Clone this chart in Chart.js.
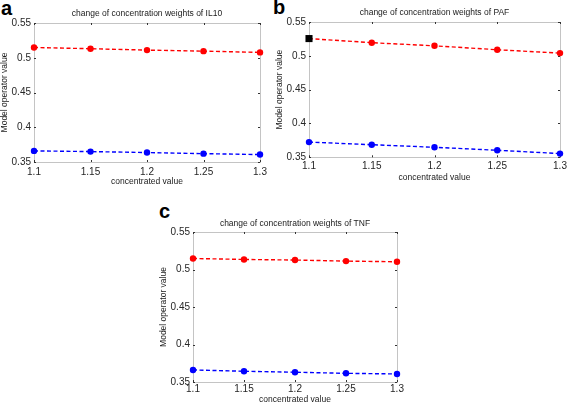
<!DOCTYPE html>
<html lang="en">
<head>
<meta charset="UTF-8">
<title>concentration weights</title>
<script src="https://cdn.jsdelivr.net/npm/chart.js@4/dist/chart.umd.min.js"></script>
<style>
  body { margin: 0; width: 567px; height: 404px; overflow: hidden; background: #fff; position: relative; }
  .box { position: absolute; }
  .letra { position: absolute; font: bold 20px "Liberation Sans", Arial, sans-serif; line-height: 20px; color: #000; }
</style>
</head>
<body>
  <div class="letra" style="left:1px; top:-2px">a</div>
  <div class="letra" style="left:273px; top:-3px">b</div>
  <div class="letra" style="left:159px; top:201px">c</div>

  <div class="box" style="left:0px; top:0px; width:275px; height:195px"><canvas id="chartA"></canvas></div>
  <div class="box" style="left:274px; top:0px; width:301px; height:195px"><canvas id="chartB"></canvas></div>
  <div class="box" style="left:159px; top:200px; width:255px; height:206px"><canvas id="chartC"></canvas></div>

<script>
  // valores
  const xLabels = ['1.1', '1.15', '1.2', '1.25', '1.3'];
  const yTicks = [0.35, 0.4, 0.45, 0.5, 0.55];

  const il10Red = [0.5148, 0.513, 0.511, 0.5095, 0.5077];
  const il10Blue = [0.366, 0.365, 0.3636, 0.362, 0.3607];

  const pafRed = [0.5255, 0.5194, 0.5148, 0.509, 0.504];
  const pafBlue = [0.3725, 0.3686, 0.3648, 0.3604, 0.3555];

  const tnfRed = [0.5147, 0.5134, 0.5126, 0.5112, 0.5103];
  const tnfBlue = [0.3661, 0.3643, 0.363, 0.3616, 0.3607];

  const fonte = '"Liberation Sans", Arial, sans-serif';

  // moldura cinza + marcas de tick para dentro (estilo matlab)
  const moldura = {
    id: 'moldura',
    beforeDatasetsDraw(chart) {
      const ctx = chart.ctx;
      const a = chart.chartArea;
      const sx = chart.scales.x, sy = chart.scales.y;
      ctx.save();
      ctx.strokeStyle = '#c4c4c4';
      ctx.lineWidth = 1;
      ctx.strokeRect(Math.round(a.left) + 0.5, Math.round(a.top) + 0.5,
        Math.round(a.right - a.left), Math.round(a.bottom - a.top));
      ctx.strokeStyle = '#333';
      ctx.beginPath();
      sx.ticks.forEach((t, i) => {
        const px = Math.round(sx.getPixelForTick(i)) + 0.5;
        ctx.moveTo(px, a.bottom); ctx.lineTo(px, a.bottom - 2);
        ctx.moveTo(px, a.top); ctx.lineTo(px, a.top + 2);
      });
      sy.ticks.forEach(t => {
        const py = Math.round(sy.getPixelForValue(t.value)) + 0.5;
        ctx.moveTo(a.left, py); ctx.lineTo(a.left + 2, py);
        ctx.moveTo(a.right, py); ctx.lineTo(a.right - 2, py);
      });
      ctx.stroke();
      ctx.restore();
    }
  };

  function serie(valores, cor, estilos, fundos) {
    return {
      data: valores,
      borderColor: cor,
      backgroundColor: fundos || cor,
      pointBackgroundColor: fundos || cor,
      pointBorderColor: fundos || cor,
      pointBorderWidth: 0,
      pointStyle: estilos || 'circle',
      pointRadius: estilos ? [5, 3.2, 3.2, 3.2, 3.2] : 3.2,
      borderWidth: 1.4,
      borderDash: [4, 2.5],
      tension: 0,
      fill: false,
      clip: false
    };
  }

  function plotar(id, titulo, red, blue, lay, marcador) {
    const datasets = [];
    if (marcador) {
      datasets.push(serie(red, '#ff0000', ['rect', 'circle', 'circle', 'circle', 'circle'],
        ['#000000', '#ff0000', '#ff0000', '#ff0000', '#ff0000']));
    } else {
      datasets.push(serie(red, '#ff0000'));
    }
    datasets.push(serie(blue, '#0000ff'));

    return new Chart(document.getElementById(id), {
      type: 'line',
      data: { labels: xLabels, datasets: datasets },
      plugins: [moldura],
      options: {
        responsive: true,
        maintainAspectRatio: false,
        animation: false,
        events: [],
        layout: { padding: { left: 0, right: lay.right, top: 0, bottom: 0 } },
        plugins: {
          legend: { display: false },
          tooltip: { enabled: false },
          title: {
            display: true,
            text: titulo,
            fullSize: false,
            color: '#1a1a1a',
            font: { family: fonte, size: 8.5, weight: 'normal', lineHeight: 1.2 },
            padding: { top: lay.tTop, bottom: lay.tBottom }
          }
        },
        scales: {
          x: {
            type: 'category',
            offset: false,
            grid: { display: false, drawTicks: false },
            border: { display: false },
            ticks: { color: '#262626', padding: lay.xPad, maxRotation: 0, autoSkip: false,
              font: { family: fonte, size: 10 } },
            title: { display: true, text: 'concentrated value', color: '#1a1a1a',
              font: { family: fonte, size: 8.5 }, padding: { top: 0, bottom: lay.xtBottom } },
            afterFit: s => { s.height = lay.xH; }
          },
          y: {
            min: 0.35,
            max: 0.55,
            grid: { display: false, drawTicks: false },
            border: { display: false },
            afterBuildTicks: s => { s.ticks = yTicks.map(v => ({ value: v })); },
            ticks: { color: '#262626', padding: 3, font: { family: fonte, size: 10 },
              callback: v => String(v) },
            title: { display: true, text: 'Model operator value', color: '#1a1a1a',
              font: { family: fonte, size: 8.5 }, padding: { top: lay.ytTop, bottom: 0 } },
            afterFit: s => { s.width = lay.yW; }
          }
        }
      }
    });
  }

  plotar('chartA', 'change of concentration weights of IL10', il10Red, il10Blue,
    { right: 15, tTop: 9, tBottom: 3.8, xPad: 4, xtBottom: 8.4, xH: 33, yW: 34, ytTop: 0 });
  plotar('chartB', 'change of concentration weights of PAF', pafRed, pafBlue,
    { right: 15, tTop: 7.6, tBottom: 4.2, xPad: 2.5, xtBottom: 12.2, xH: 37.7, yW: 35, ytTop: 1 }, true);
  plotar('chartC', 'change of concentration weights of TNF', tnfRed, tnfBlue,
    { right: 17, tTop: 18.2, tBottom: 3.6, xPad: 1, xtBottom: 0.9, xH: 24, yW: 34, ytTop: 0 });
</script>
</body>
</html>
